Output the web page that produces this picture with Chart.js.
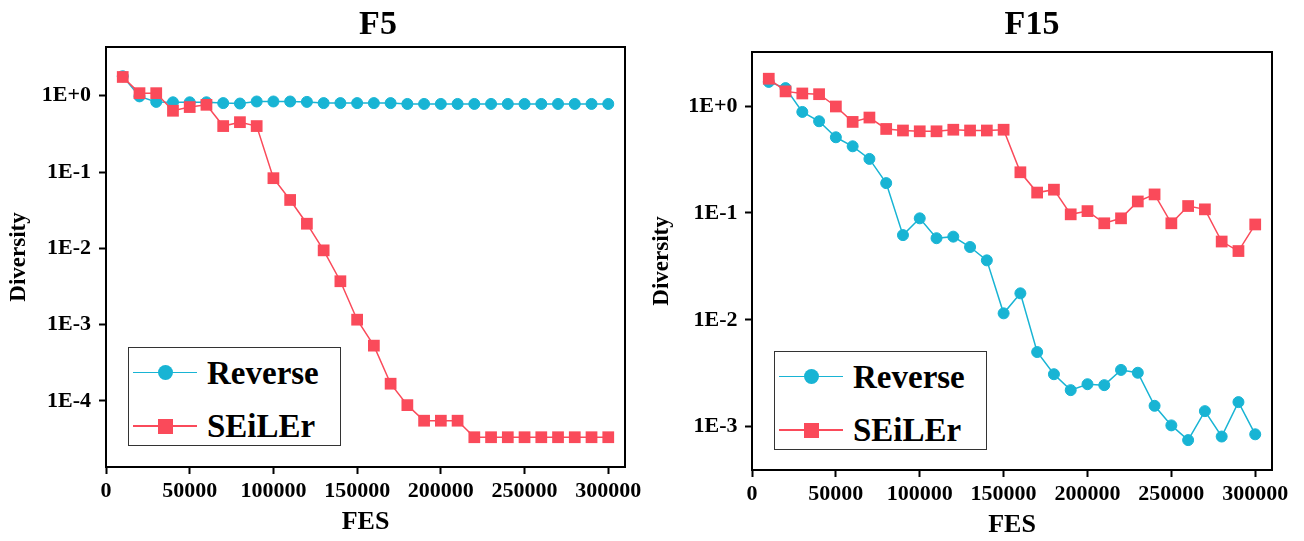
<!DOCTYPE html>
<html>
<head>
<meta charset="utf-8">
<script src="https://cdn.jsdelivr.net/npm/chart.js@4.4.1/dist/chart.umd.min.js"></script>
<style>
body{margin:0;background:#fff;font-family:"Liberation Serif","Times New Roman",serif;}
#wrap{position:relative;width:1304px;height:541px;overflow:hidden}
canvas{position:absolute;top:0}
.title{position:absolute;top:0;width:200px;text-align:center;font-weight:bold;font-size:34px;line-height:45px}
.legend{position:absolute;border:1.5px solid #333;background:#fff;box-sizing:border-box}
.row{position:absolute;left:0;right:0;height:0}
.row .ln{position:absolute;left:4px;width:64px;height:1.5px;top:-0.75px}
.row .mk{position:absolute;width:15px;height:15px;left:29px;top:-7.5px}
.row .tx{position:absolute;left:78px;top:-20px;line-height:40px;font-size:33px;font-weight:bold;white-space:nowrap}
</style>
</head>
<body>
<div id="wrap">
  <canvas id="c1" width="650" height="541" style="left:0"></canvas>
  <canvas id="c2" width="658" height="541" style="left:646px"></canvas>
  <div class="title" style="left:278px">F5</div>
  <div class="title" style="left:932px">F15</div>
  <div class="legend" id="leg1" style="left:128px;top:347px;width:213px;height:99px"></div>
  <div class="legend" id="leg2" style="left:774px;top:351px;width:213px;height:99px"></div>
</div>
<script>
const fes = [10000, 20000, 30000, 40000, 50000, 60000, 70000, 80000, 90000, 100000,
  110000, 120000, 130000, 140000, 150000, 160000, 170000, 180000, 190000, 200000,
  210000, 220000, 230000, 240000, 250000, 260000, 270000, 280000, 290000, 300000];

const f5Reverse = [1.8, 0.98, 0.83, 0.82, 0.82, 0.82, 0.80, 0.79, 0.84, 0.84,
  0.84, 0.83, 0.80, 0.80, 0.80, 0.80, 0.80, 0.78, 0.78, 0.78,
  0.78, 0.78, 0.78, 0.78, 0.78, 0.78, 0.78, 0.78, 0.78, 0.78];
const f5Seiler = [1.76, 1.08, 1.08, 0.635, 0.71, 0.76, 0.40, 0.45, 0.40, 0.083,
  0.043, 0.021, 0.0094, 0.0037, 0.00116, 0.00053, 0.000168, 0.000088, 0.000055, 0.000055,
  0.000055, 0.0000334, 0.0000334, 0.0000334, 0.0000334, 0.0000334, 0.0000334, 0.0000334, 0.0000334, 0.0000334];

const f15Reverse = [1.68, 1.47, 0.88, 0.72, 0.51, 0.42, 0.32, 0.19, 0.062, 0.089,
  0.058, 0.060, 0.048, 0.036, 0.0115, 0.0177, 0.0050, 0.0031, 0.0022, 0.0025,
  0.00245, 0.0034, 0.0032, 0.00157, 0.00103, 0.00075, 0.0014, 0.00081, 0.0017, 0.00085];
const f15Seiler = [1.8, 1.37, 1.31, 1.29, 0.99, 0.71, 0.78, 0.61, 0.59, 0.58,
  0.58, 0.60, 0.59, 0.59, 0.60, 0.24, 0.155, 0.165, 0.097, 0.104,
  0.080, 0.089, 0.128, 0.149, 0.080, 0.116, 0.108, 0.054, 0.044, 0.078];

const xTicks = [0, 50000, 100000, 150000, 200000, 250000, 300000];
const f5YTicks = [1e-4, 1e-3, 1e-2, 1e-1, 1];
const f15YTicks = [1e-3, 1e-2, 1e-1, 1];
const seriesNames = ['Reverse', 'SEiLEr'];

const cyan = '#18B4D4';
const red = '#FA4A5A';
const font = '"Liberation Serif", "Times New Roman", serif';

function expLabel(v) {
  var e = Math.round(Math.log10(v));
  return '1E' + (e >= 0 ? '+' + e : e);
}

// draws the full box around the plot area
const framePlugin = {
  id: 'frame',
  beforeDatasetsDraw(chart) {
    const a = chart.chartArea, ctx = chart.ctx;
    ctx.save();
    ctx.strokeStyle = '#000';
    ctx.lineWidth = 2;
    ctx.strokeRect(a.left, a.top, a.right - a.left, a.bottom - a.top);
    ctx.restore();
  }
};

function makeChart(id, reverse, seiler, yMin, yMax, yTicks, cfg) {
  const pts = vals => vals.map((v, i) => ({x: fes[i], y: v}));
  return new Chart(document.getElementById(id), {
    type: 'line',
    data: {
      datasets: [{
        label: seriesNames[0],
        data: pts(reverse),
        borderColor: cyan, backgroundColor: cyan,
        borderWidth: 1.5, pointStyle: 'circle', pointRadius: 5.5,
        pointBorderWidth: 1, order: 1
      }, {
        label: seriesNames[1],
        data: pts(seiler),
        borderColor: red, backgroundColor: red,
        borderWidth: 1.5, pointStyle: 'rect', pointRadius: 8.3,
        pointBorderWidth: 0, order: 0
      }]
    },
    options: {
      responsive: false,
      animation: false,
      events: [],
      layout: {padding: {left: 0, right: cfg.padRight, top: cfg.padTop, bottom: 0}},
      plugins: {legend: {display: false}, tooltip: {enabled: false}},
      scales: {
        x: {
          type: 'linear', min: 0, max: 310000,
          afterBuildTicks: s => { s.ticks = xTicks.map(v => ({value: v})); },
          afterFit: s => { s.height = cfg.xHeight; },
          grid: {drawOnChartArea: false, drawTicks: true, tickLength: 7, tickWidth: 2, tickColor: '#000'},
          border: {display: true, color: '#000', width: 2},
          ticks: {color: '#000', padding: 4, maxRotation: 0, callback: v => String(v),
            font: {family: font, size: 22, weight: 'bold'}},
          title: {display: true, text: 'FES', color: '#000', padding: {top: 0, bottom: cfg.xTitlePad},
            font: {family: font, size: 26, weight: 'bold'}}
        },
        y: {
          type: 'logarithmic', min: yMin, max: yMax, bounds: 'data',
          afterBuildTicks: s => { s.ticks = yTicks.map(v => ({value: v})); },
          afterFit: s => { s.width = cfg.yWidth; },
          grid: {drawOnChartArea: false, drawTicks: true, tickLength: 7, tickWidth: 2, tickColor: '#000'},
          border: {display: true, color: '#000', width: 2},
          ticks: {color: '#000', padding: cfg.yTickPad, callback: v => expLabel(v),
            font: {family: font, size: 22, weight: 'bold'}},
          title: {display: true, text: 'Diversity', color: '#000', padding: {top: cfg.yTitlePad, bottom: 0},
            font: {family: font, size: 23, weight: 'bold'}}
        }
      }
    },
    plugins: [framePlugin]
  });
}

function buildLegend(boxId, chart) {
  const box = document.getElementById(boxId);
  chart.data.datasets.forEach((ds, i) => {
    const row = document.createElement('div');
    row.className = 'row';
    row.style.top = (i == 0 ? 24.5 : 78) + 'px';
    const round = ds.pointStyle == 'circle' ? 'border-radius:50%;' : '';
    row.innerHTML = '<div class="ln" style="background:' + ds.borderColor + '"></div>' +
      '<div class="mk" style="' + round + 'background:' + ds.backgroundColor + '"></div>' +
      '<div class="tx">' + ds.label + '</div>';
    box.appendChild(row);
  });
}

const chart1 = makeChart('c1', f5Reverse, f5Seiler, 1.36e-5, 4.35, f5YTicks,
  {padRight: 25, padTop: 47, xHeight: 74, yWidth: 106, xTitlePad: 3, yTitlePad: 5.5, yTickPad: 8});
const chart2 = makeChart('c2', f15Reverse, f15Seiler, 3.94e-4, 3.2, f15YTicks,
  {padRight: 32, padTop: 52, xHeight: 71, yWidth: 106, xTitlePad: 0, yTitlePad: 2, yTickPad: 7.5});

buildLegend('leg1', chart1);
buildLegend('leg2', chart2);
</script>
</body>
</html>
